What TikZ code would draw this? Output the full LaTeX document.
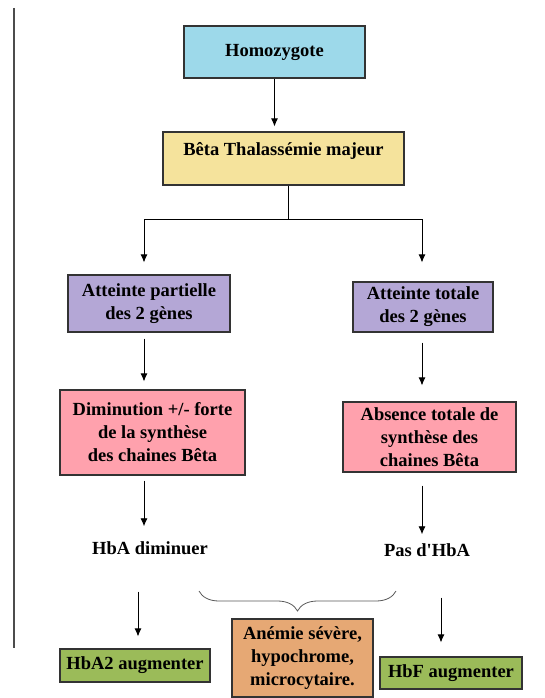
\documentclass[tikz,border=0pt]{standalone}
\usepackage{fontspec}
\setmainfont{Liberation Serif}
\usetikzlibrary{arrows.meta,decorations.pathreplacing}

\definecolor{homoblue}{HTML}{9DD9EA}
\definecolor{betayellow}{HTML}{F5E39C}
\definecolor{genepurple}{HTML}{B4A7D6}
\definecolor{synthpink}{HTML}{FFA1AD}
\definecolor{hbgreen}{HTML}{9BBB59}
\definecolor{anemieorange}{HTML}{E6A874}
\definecolor{boxline}{HTML}{333333}

\tikzset{
  box/.style={draw=boxline, line width=1.1pt, inner sep=3pt, align=center,
    font=\fontsize{18.5}{23}\selectfont\bfseries},
  lbl/.style={inner sep=3pt, font=\fontsize{18.5}{23}\selectfont\bfseries},
  arr/.style={-{Latex[length=8pt,width=7pt]}, line width=0.9pt},
}

\begin{document}
\begin{tikzpicture}[x=1pt, y=1pt]
\useasboundingbox (0,0) rectangle (545,-698);

% page margin line
\draw[gray!60!black, line width=1.2pt] (14,-8) -- (14,-648);

% boxes
\node[box, fill=homoblue, minimum width=181pt, minimum height=52pt] (homo) at (274.5,-52) {Homozygote};
\node[box, fill=betayellow, minimum width=241pt, minimum height=53pt, text depth=20pt] (beta) at (283.5,-158.5) {Bêta Thalassémie majeur};
\node[box, fill=genepurple, minimum width=162pt, minimum height=57pt] (partielle) at (149,-303.5) {Atteinte partielle\\des 2 gènes};
\node[box, fill=genepurple, minimum width=140pt, minimum height=50pt] (totale) at (423,-307) {Atteinte totale\\des 2 gènes};
\node[box, fill=synthpink, minimum width=185pt, minimum height=85pt] (dimin) at (152.5,-432.5) {Diminution +/- forte\\de la synthèse\\des chaines Bêta};
\node[box, fill=synthpink, minimum width=173pt, minimum height=70pt] (absence) at (429.5,-437) {Absence totale de\\synthèse des\\chaines Bêta};
\node[lbl] (hbadim) at (150,-548) {HbA diminuer};
\node[lbl] (pasdhba) at (427,-550) {Pas d\textquotesingle HbA};
\node[box, fill=hbgreen, minimum width=150pt, minimum height=33pt] (hbaug) at (135,-665.5) {HbA2 augmenter};
\node[box, fill=anemieorange, minimum width=141pt, minimum height=78pt] (anemie) at (302.5,-658) {Anémie sévère,\\hypochrome,\\microcytaire.};
\node[box, fill=hbgreen, minimum width=142pt, minimum height=32pt] (hbfaug) at (451,-673) {HbF augmenter};

% columns and split point
\coordinate (colL) at (144,0);
\coordinate (colR) at (422,0);
\coordinate (colG) at (138,0);
\coordinate (colF) at (441,0);
\coordinate (split) at (288,-219);
\coordinate (braceR) at (396,-591);
\coordinate (braceL) at (199,-591);

% connectors
\draw[arr, shorten >=5pt] (homo.south) -- (homo.south |- beta.north);
\draw[line width=0.9pt] (beta.south -| split) -- (split);
\draw[line width=0.9pt] (split -| colL) -- (split -| colR);
\draw[arr, shorten >=12pt] (split -| colL) -- (partielle.north -| colL);
\draw[arr, shorten >=19pt] (split -| colR) -- (totale.north -| colR);
\draw[arr, shorten <=6pt, shorten >=8pt] (partielle.south -| colL) -- (dimin.north -| colL);
\draw[arr, shorten <=10pt, shorten >=16pt] (totale.south -| colR) -- (absence.north -| colR);
\draw[arr, shorten <=5pt, shorten >=12pt] (dimin.south -| colL) -- (hbadim.north -| colL);
\draw[arr, shorten <=13pt, shorten >=6pt] (absence.south -| colR) -- (pasdhba.north -| colR);
\draw[arr, shorten <=34pt, shorten >=12pt] (hbadim.south -| colG) -- (hbaug.north -| colG);
\draw[arr, shorten <=38pt, shorten >=14pt] (pasdhba.south -| colF) -- (hbfaug.north -| colF);

% brace over the two outcomes
\draw[gray!70!black, line width=0.8pt, decorate, decoration={brace, amplitude=20pt}] (braceR) -- (braceL);
\end{tikzpicture}
\end{document}
